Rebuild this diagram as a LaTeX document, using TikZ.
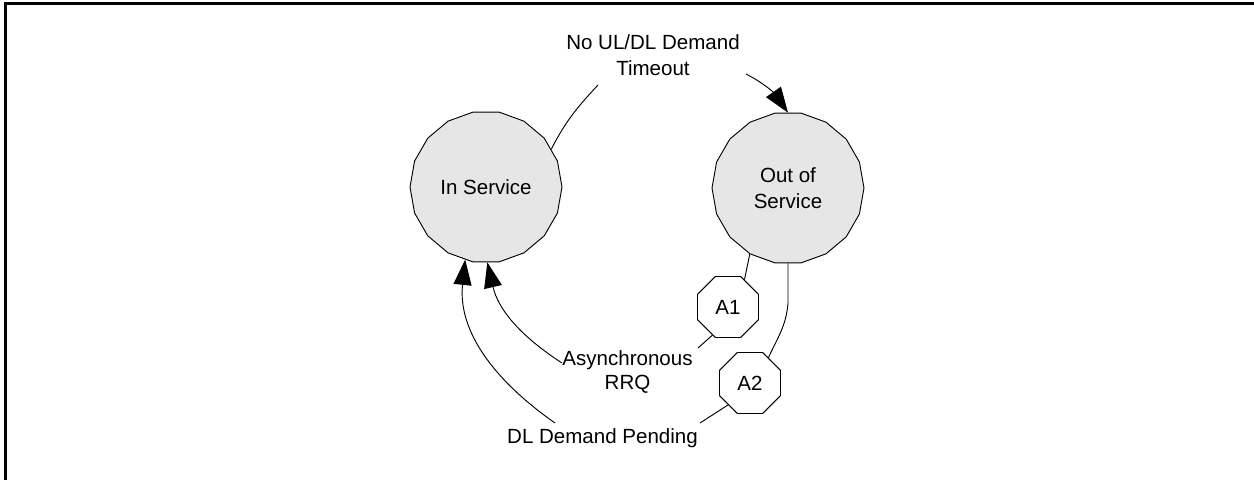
\documentclass[tikz,border=0pt]{standalone}
\usepackage{fontspec}
\setmainfont{Liberation Sans}
\usetikzlibrary{shapes.geometric,arrows.meta}
\definecolor{statefill}{RGB}{230,230,230}
\begin{document}
\begin{tikzpicture}[x=0.75pt,y=0.75pt,
  every node/.style={font=\fontsize{15.4}{20}\selectfont},
  state/.style={draw, line width=0.7pt, fill=statefill, regular polygon,
    regular polygon sides=18, minimum size=114pt, inner sep=0pt, align=center},
  action/.style={draw, line width=0.7pt, fill=white, regular polygon,
    regular polygon sides=8, minimum size=49.5pt, inner sep=0pt},
  lbl/.style={inner sep=0pt, align=center},
  link/.style={line width=0.7pt},
  arr/.style={line width=0.7pt, -{Triangle[length=19pt,width=13.5pt]}}]
\useasboundingbox (0,0) rectangle (1254,-479);

% frame edges
\draw[line width=2pt, line join=miter] (1260,-3.3) -- (5.3,-3.3) -- (5.3,-485);

% states
\node[state] (in)  at (486,-187) {In Service};
\node[state] (out) at (788,-188) {Out of\\Service};

% actions
\node[action] (a1) at (728,-307) {A1};
\node[action] (a2) at (750,-383) {A2};

% transition labels
\node[lbl, anchor=north] (ltime) at (653,-34) {No UL/DL Demand\\Timeout};
\node[lbl, anchor=north, font=\fontsize{15.4}{18}\selectfont] (lrrq) at (627.5,-350.5) {Asynchronous\\RRQ};
\node[lbl, anchor=base] (ldl) at (602.5,-443) {DL Demand Pending};

% label-side ends of the connectors
\coordinate (t1) at (598,-85);
\coordinate (t2) at (746,-74);
\coordinate (r1) at (698,-348);
\coordinate (r2) at (562,-363);
\coordinate (d1) at (700,-423);
\coordinate (d2) at (555,-423);

% In Service -> Out of Service
\draw[link] (in.30) to[out=63,in=227] (t1);
\draw[arr] (t2) to[out=-27,in=125] (out.north);

% Out of Service -> A1 -> In Service
\draw[link] (out.240) -- (a1.59);
\draw[link] (a1.241) -- (r1);
\draw[arr] (r2) to[out=147,in=-77] (in.271);

% Out of Service -> A2 -> In Service
\draw[link] (out.south) -- ++(0,-40) to[out=-95,in=65] (a2.54);
\draw[link] (a2.225) -- (d1);
\draw[arr] (d2) to[out=145,in=-96] (in.254);
\end{tikzpicture}
\end{document}
